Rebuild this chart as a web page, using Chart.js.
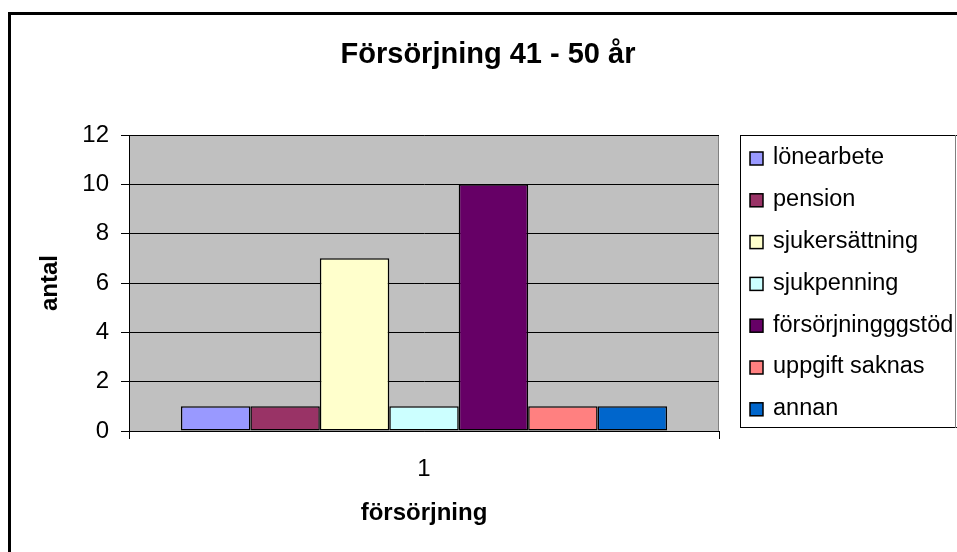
<!DOCTYPE html>
<html>
<head>
<meta charset="utf-8">
<script src="https://cdn.jsdelivr.net/npm/chart.js@4"></script>
<style>
  html, body { margin: 0; padding: 0; background: #fff; }
  #wrap { width: 957px; height: 552px; }
</style>
</head>
<body>
<div id="wrap"><canvas id="chart" width="957" height="552"></canvas></div>
<script>
const categories = ['1'];
const lonearbete = [1];
const pension = [1];
const sjukersattning = [7];
const sjukpenning = [1];
const forsorjningsstod = [10];
const uppgiftSaknas = [1];
const annan = [1];
const yTicks = [0, 2, 4, 6, 8, 10, 12];

const FONT = '"Liberation Sans", Arial, sans-serif';

const series = [
    { label: 'lönearbete', data: lonearbete, color: '#9999FF' },
    { label: 'pension', data: pension, color: '#993366' },
    { label: 'sjukersättning', data: sjukersattning, color: '#FFFFCC' },
    { label: 'sjukpenning', data: sjukpenning, color: '#CCFFFF' },
    { label: 'försörjningggstöd', data: forsorjningsstod, color: '#660066' },
    { label: 'uppgift saknas', data: uppgiftSaknas, color: '#FF8080' },
    { label: 'annan', data: annan, color: '#0066CC' }
];

// frame, plot background and title
const backdrop = {
    id: 'backdrop',
    beforeDraw(chart) {
        const { ctx, chartArea } = chart;
        ctx.save();
        ctx.fillStyle = '#fff';
        ctx.fillRect(0, 0, chart.width, chart.height);
        ctx.fillStyle = '#C0C0C0';
        ctx.fillRect(chartArea.left, chartArea.top, chartArea.right - chartArea.left, chartArea.bottom - chartArea.top);
        ctx.strokeStyle = '#808080';
        ctx.lineWidth = 1;
        ctx.beginPath();
        ctx.moveTo(chartArea.left, chartArea.top + 0.5);
        ctx.lineTo(chartArea.right - 0.5, chartArea.top + 0.5);
        ctx.lineTo(chartArea.right - 0.5, chartArea.bottom);
        ctx.stroke();
        ctx.strokeStyle = '#000';
        ctx.lineWidth = 3;
        ctx.strokeRect(9.5, 13.5, 2000, 2000);
        ctx.fillStyle = '#000';
        ctx.font = 'bold 29px ' + FONT;
        ctx.textAlign = 'center';
        ctx.textBaseline = 'alphabetic';
        ctx.fillText('Försörjning 41 - 50 år', 488, 63);
        ctx.restore();
    }
};

// legend box on the right
const sideLegend = {
    id: 'sideLegend',
    afterDraw(chart) {
        const { ctx } = chart;
        ctx.save();
        ctx.lineWidth = 1;
        ctx.strokeStyle = '#000';
        ctx.strokeRect(740.5, 135.5, 230, 292);
        ctx.strokeStyle = '#808080';
        ctx.beginPath();
        ctx.moveTo(955.5, 135);
        ctx.lineTo(955.5, 428);
        ctx.stroke();
        ctx.font = '23.5px ' + FONT;
        ctx.textBaseline = 'middle';
        ctx.textAlign = 'left';
        chart.data.datasets.forEach((ds, i) => {
            const y = 158 + i * 41.8;
            ctx.fillStyle = ds.backgroundColor;
            ctx.fillRect(750, y - 6, 13, 13);
            ctx.strokeStyle = '#000';
            ctx.lineWidth = 1.5;
            ctx.strokeRect(750, y - 6, 13, 13);
            ctx.fillStyle = '#000';
            ctx.fillText(ds.label, 773, y);
        });
        ctx.restore();
    }
};

const context = document.getElementById('chart').getContext('2d');
const chart = new Chart(context, {
    type: 'bar',
    data: {
        labels: categories,
        datasets: series.map(s => ({
            label: s.label,
            data: s.data,
            backgroundColor: s.color,
            borderColor: '#000',
            borderWidth: 1.5,
            borderSkipped: false,
            barPercentage: 1,
            categoryPercentage: 0.824
        }))
    },
    options: {
        responsive: false,
        animation: false,
        devicePixelRatio: 1,
        layout: {
            padding: { left: 0, top: 135, right: 238, bottom: 0 }
        },
        plugins: {
            legend: { display: false },
            title: { display: false },
            tooltip: { enabled: false }
        },
        scales: {
            x: {
                afterFit(scale) { scale.height = 121; },
                grid: {
                    drawOnChartArea: false,
                    drawTicks: true,
                    tickLength: 8,
                    tickColor: '#000',
                    offset: true
                },
                border: { display: true, color: '#000', width: 1 },
                ticks: {
                    color: '#000',
                    font: { family: FONT, size: 24 },
                    padding: 16
                },
                title: {
                    display: true,
                    text: 'försörjning',
                    color: '#000',
                    font: { family: FONT, size: 24, weight: 'bold' },
                    padding: { top: 0, bottom: 24 }
                }
            },
            y: {
                min: 0,
                max: 12,
                afterFit(scale) { scale.width = 129; },
                afterBuildTicks(scale) {
                    scale.ticks = yTicks.map(v => ({ value: v }));
                },
                grid: {
                    color: '#000',
                    lineWidth: 1,
                    drawTicks: true,
                    tickLength: 8,
                    tickColor: '#000'
                },
                border: { display: true, color: '#000', width: 1 },
                ticks: {
                    color: '#000',
                    font: { family: FONT, size: 24 },
                    padding: 12
                },
                title: {
                    display: true,
                    text: 'antal',
                    color: '#000',
                    font: { family: FONT, size: 24, weight: 'bold' },
                    padding: { top: 36, bottom: 0 }
                }
            }
        }
    },
    plugins: [backdrop, sideLegend]
});
</script>
</body>
</html>
